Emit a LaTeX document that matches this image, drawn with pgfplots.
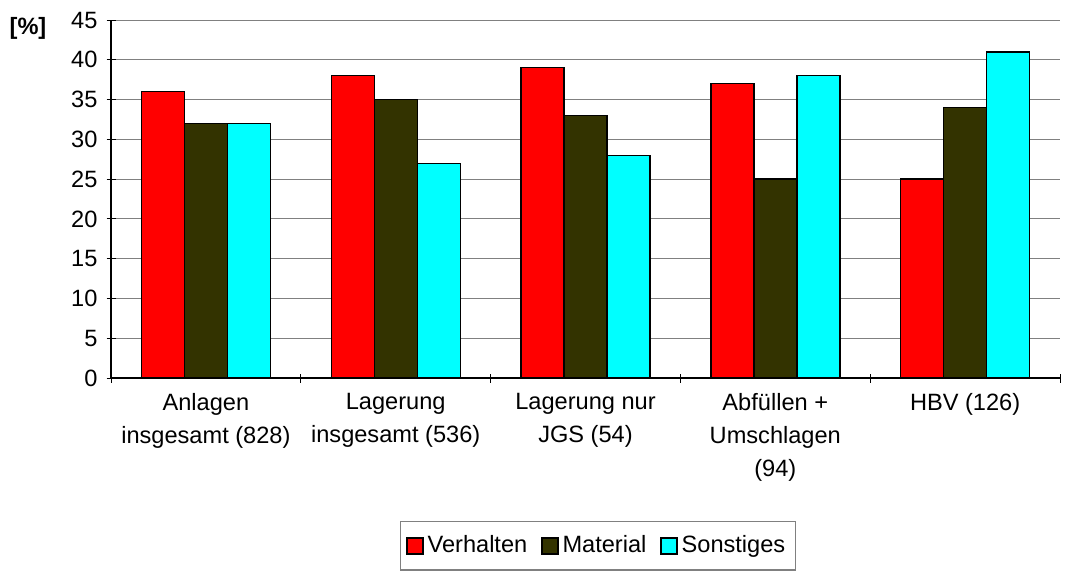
\documentclass[border=0pt]{standalone}
\usepackage{pgfplots}
\pgfplotsset{compat=1.18}
\usepackage{fontspec}
\setmainfont{Liberation Sans}
\definecolor{cRed}{RGB}{255,0,0}
\definecolor{cOlive}{RGB}{51,51,0}
\definecolor{cCyan}{RGB}{0,255,255}
\begin{document}
\begin{tikzpicture}
\useasboundingbox (0,0) rectangle (538pt,285pt);
\begin{axis}[
  at={(55.5pt,96pt)}, anchor=south west,
  scale only axis, width=474.5pt, height=179pt,
  ybar=0pt, bar width=21.5pt,
  xmin=-0.5, xmax=4.5, ymin=0, ymax=45,
  ytick={0,5,...,45},
  xtick={0,1,2,3,4},
  xticklabels={{Anlagen\\insgesamt (828)},{Lagerung\\insgesamt (536)},{Lagerung nur\\JGS (54)},{Abfüllen +\\Umschlagen\\(94)},{HBV (126)}},
  minor xtick={-0.5,0.5,1.5,2.5,3.5,4.5},
  major x tick style={draw=none},
  minor x tick style={black, line width=0.5pt},
  y tick style={black, line width=0.5pt},
  tick align=outside, major tick length=4.5pt, minor tick length=4.5pt,
  axis lines=left, axis line style={-, black, line width=0.6pt},
  ymajorgrids, grid style={gray, line width=0.5pt},
  /pgf/number format/assume math mode=true,
  tick label style={font=\fontsize{11.8}{16.5}\selectfont},
  yticklabel style={xshift=-1pt},
  xticklabel style={align=center, yshift=-2pt},
  legend columns=3,
  legend style={at={(0.513,-0.469)}, anchor=center, draw=gray, line width=0.6pt,
    font=\fontsize{11.8}{13}\selectfont, inner xsep=3pt, inner ysep=5pt,
    /tikz/every even column/.append style={column sep=5pt}},
  legend image code/.code={\draw[#1, line width=0.6pt] (0pt,-4pt) rectangle (8pt,4pt);},
  every axis plot/.append style={draw=black, line width=0.7pt},
]
\addplot[fill=cRed] coordinates {(0,36) (1,38) (2,39) (3,37) (4,25)};
\addplot[fill=cOlive] coordinates {(0,32) (1,35) (2,33) (3,25) (4,34)};
\addplot[fill=cCyan] coordinates {(0,32) (1,27) (2,28) (3,38) (4,41)};
\legend{Verhalten,Material,Sonstiges}
\end{axis}
\node[font=\bfseries\fontsize{11.8}{13}\selectfont] at (14pt,271pt) {[\%]};
\end{tikzpicture}
\end{document}
